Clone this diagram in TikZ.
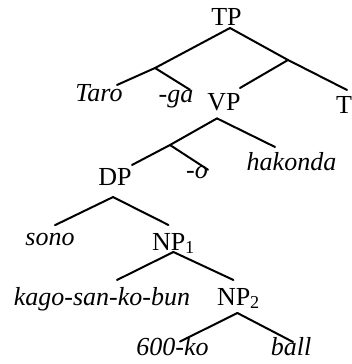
\documentclass[tikz,border=0pt]{standalone}
\usepackage{fontspec}
\setmainfont{Liberation Serif}
\usetikzlibrary{calc}
\tikzset{
  lab/.style={inner sep=0pt, outer sep=0pt, anchor=base, font=\fontsize{26}{30}\selectfont},
  word/.style={lab, font=\fontsize{26}{30}\selectfont\itshape},
  edge/.style={line width=2pt, line cap=round, line join=round}
}
\begin{document}
\begin{tikzpicture}[x=1pt,y=-1pt]
\useasboundingbox (0,0) rectangle (352,364);
% labels
\node[lab] (TP) at (226.5,25) {TP};
\node[word] (Taro) at (99,101) {Taro};
\node[word] (ga) at (176,102) {-ga};
\node[lab] (VP) at (224,110) {VP};
\node[lab, anchor=base west] (T) at (336,113) {T};
\node[word] (hakonda) at (291.5,170) {hakonda};
\node[word] (o) at (197,178) {-o};
\node[lab] (DP) at (115,185) {DP};
\node[word] (sono) at (50,245) {sono};
\node[lab, anchor=base west] (NPa) at (152,250) {NP\textsubscript{1}};
\node[word] (kago) at (102,305) {kago-san-ko-bun};
\node[lab, anchor=base west] (NPb) at (217,305) {NP\textsubscript{2}};
\node[word] (ko) at (172.5,355) {600-ko};
\node[word] (ball) at (291,355) {ball};
% junctions
\coordinate (j1) at (155,68);
\coordinate (j2) at (288,60);
\coordinate (j3) at (170,145);
% edges
\draw[edge] ($(TP.south)+(3.5,3)$) -- (j1);
\draw[edge] ($(TP.south)+(3.5,3)$) -- (j2);
\draw[edge] (j1) -- ($(Taro.north)+(18,1)$);
\draw[edge] (j1) -- ($(ga.north)+(14,0)$);
\draw[edge] (j2) -- ($(VP.north)+(16,-5)$);
\draw[edge] (j2) -- ($(T.north west)+(11,-6)$);
\draw[edge] ($(VP.south)+(-7,8)$) -- (j3);
\draw[edge] ($(VP.south)+(-7,8)$) -- ($(hakonda.north)+(-16.5,-5)$);
\draw[edge] (j3) -- ($(DP.north)+(17,-3)$);
\draw[edge] (j3) -- ($(o.north)+(11,4)$);
\draw[edge] ($(DP.south)+(-2,12)$) -- ($(sono.north)+(5,-7.6)$);
\draw[edge] ($(DP.south)+(-2,12)$) -- ($(NPa.north)+(-5,-8)$);
\draw[edge] ($(NPa.base)+(0,2)$) -- ($(kago.north)+(15,-7)$);
\draw[edge] ($(NPa.base)+(0,2)$) -- ($(NPb.north)+(-5,-8)$);
\draw[edge] ($(NPb.base)+(-1,8)$) -- ($(ko.north)+(7.5,4.6)$);
\draw[edge] ($(NPb.base)+(-1,8)$) -- ($(ball.north)+(2,5)$);
\end{tikzpicture}
\end{document}
